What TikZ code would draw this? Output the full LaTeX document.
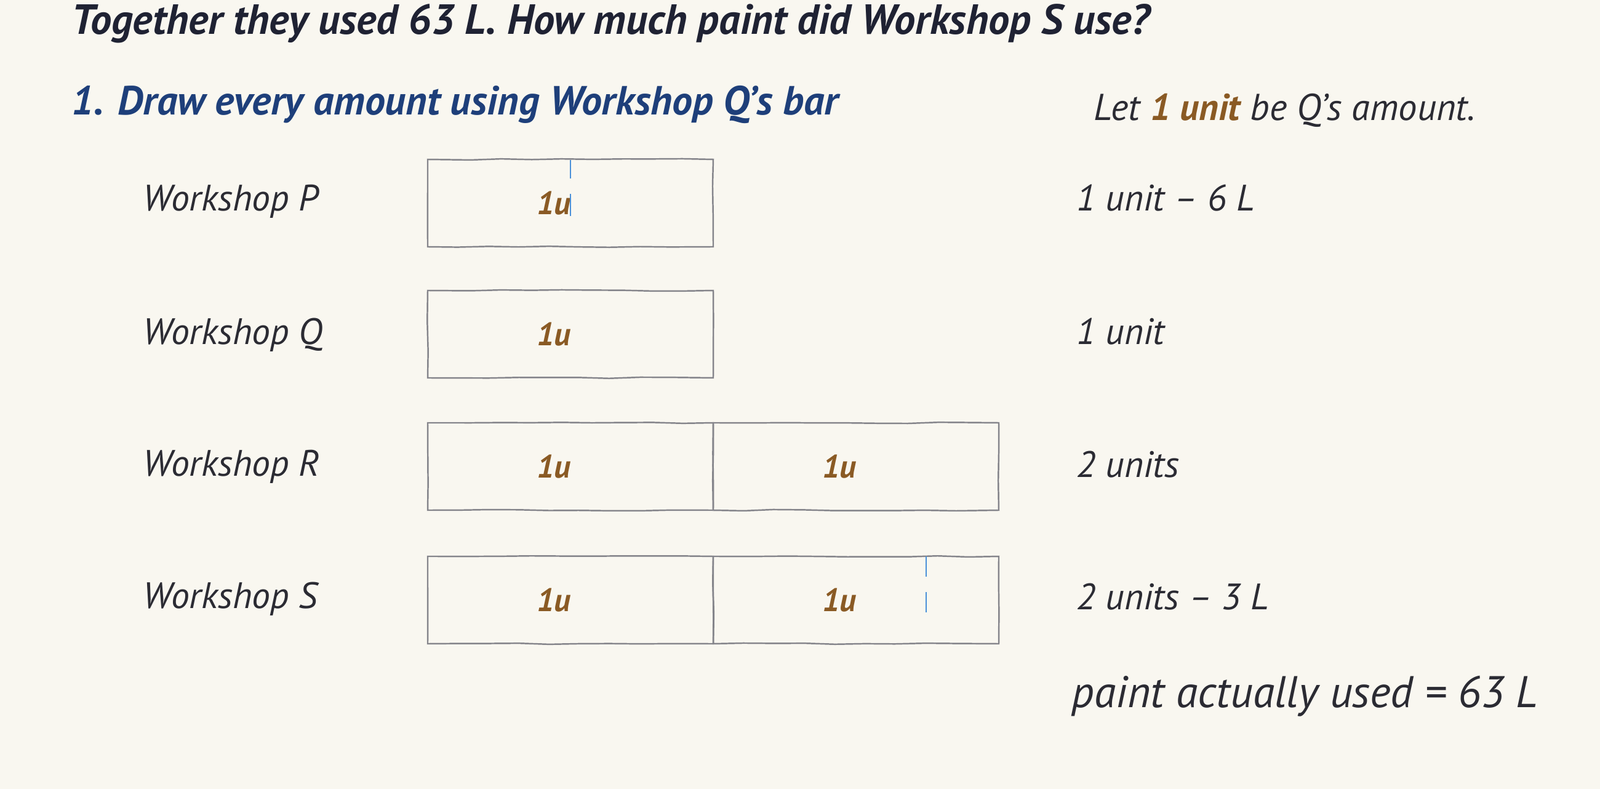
\documentclass[tikz,border=0pt]{standalone}
\usepackage{fontspec}
\setmainfont{PT Sans}
\usetikzlibrary{positioning}
\usetikzlibrary{decorations.pathmorphing}
\definecolor{paper}{HTML}{F9F7F0}
\definecolor{ink}{HTML}{2B2B33}
\definecolor{titleink}{HTML}{1F2233}
\definecolor{stepblue}{HTML}{1E3F7A}
\definecolor{unitbrown}{HTML}{8A5A24}
\definecolor{pencil}{HTML}{85858B}
\definecolor{tickblue}{HTML}{4A90D9}

\begin{document}
\begin{tikzpicture}[
    hand/.style={font=\fontsize{17}{21}\selectfont\itshape, text=ink, inner sep=0pt},
    headline/.style={font=\fontsize{19}{23}\selectfont\bfseries\itshape, inner sep=0pt},
    cell/.style={draw=pencil, line width=0.7pt, minimum width=4.64cm, minimum height=1.42cm,
                 outer sep=0pt, inner sep=0pt, decorate,
                 decoration={random steps, segment length=14pt, amplitude=0.3pt}},
    ulabel/.style={font=\fontsize{15}{18}\selectfont\bfseries\itshape, text=unitbrown, inner sep=0pt},
    tickline/.style={tickblue, line width=0.8pt}
]
            \fill[paper] (0,0) rectangle (26,-12.82);
            \useasboundingbox (0,0) rectangle (26,-12.82);
            % question and step
            \node[headline, font=\fontsize{19.5}{23}\selectfont\bfseries\itshape, text=titleink, anchor=base west] (title) at (1.16,-0.56) {Together they used 63 L. How much paint did Workshop S use?};
            \node[headline, font=\fontsize{18.8}{23}\selectfont\bfseries\itshape, text=stepblue, anchor=base west] (step1) at (1.16,-1.87) {1. Draw every amount using Workshop Q’s bar};
            \node[hand, font=\fontsize{17.3}{21}\selectfont\itshape, anchor=base west] (letunit) at (17.77,-1.96) {Let {\bfseries\color{unitbrown}1 unit} be Q’s amount.};
            % workshop names
            \node[hand, anchor=base west] (labP) at (2.32,-3.43) {Workshop P};
            \node[hand, anchor=base west] (labQ) at (2.32,-5.60) {Workshop Q};
            \node[hand, anchor=base west] (labR) at (2.32,-7.74) {Workshop R};
            \node[hand, anchor=base west] (labS) at (2.32,-9.88) {Workshop S};
            % bars
            \node[cell, anchor=north west] (barP) at (6.95,-2.59) {};
            \node[cell, anchor=north west] (barQ) at (6.95,-4.72) {};
            \node[cell, anchor=north west] (cellR1) at (6.95,-6.87) {};
            \node[cell, right=0pt of cellR1] (cellR2) {};
            \node[cell, anchor=north west] (cellS1) at (6.95,-9.04) {};
            \node[cell, right=0pt of cellS1] (cellS2) {};
            \node[ulabel, xshift=-0.27cm] (uP) at (barP.center) {1u};
            \node[ulabel, xshift=-0.27cm] (uQ) at (barQ.center) {1u};
            \node[ulabel, xshift=-0.27cm] (uR1) at (cellR1.center) {1u};
            \node[ulabel, xshift=-0.27cm] (uR2) at (cellR2.center) {1u};
            \node[ulabel, xshift=-0.27cm] (uS1) at (cellS1.center) {1u};
            \node[ulabel, xshift=-0.27cm] (uS2) at (cellS2.center) {1u};
            % blue ticks
            \coordinate (tickPtop) at (9.27,-2.60);
            \coordinate (tickPbot) at (9.27,-3.51);
            \coordinate (tickStop) at (15.05,-9.04);
            \coordinate (tickSbot) at (15.05,-9.95);
            \draw[tickline, dash pattern=on 0.30cm off 0.25cm on 0.36cm] (tickPtop) -- (tickPbot);
            \draw[tickline, dash pattern=on 0.33cm off 0.25cm on 0.33cm] (tickStop) -- (tickSbot);
            % amounts
            \node[hand, anchor=base west] (amtP) at (17.49,-3.43) {1 unit – 6 L};
            \node[hand, anchor=base west] (amtQ) at (17.49,-5.60) {1 unit};
            \node[hand, anchor=base west] (amtR) at (17.49,-7.76) {2 units};
            \node[hand, anchor=base west] (amtS) at (17.49,-9.90) {2 units – 3 L};
            \node[hand, font=\fontsize{20.5}{24}\selectfont\itshape, anchor=base west] (total) at (17.41,-11.49) {paint actually used = 63 L};

        \end{tikzpicture}
\end{document}
